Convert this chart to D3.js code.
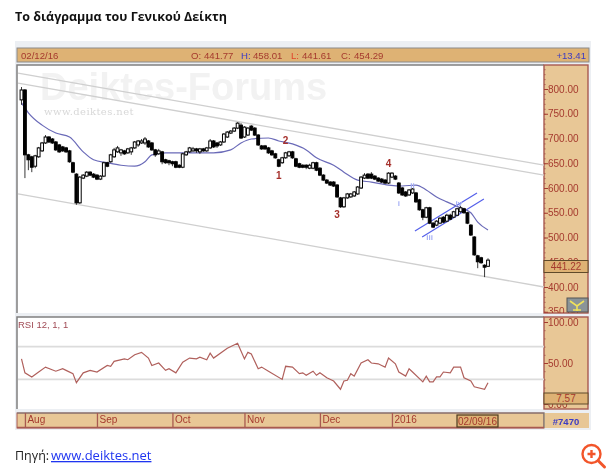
<!DOCTYPE html>
<html>
<head>
<meta charset="utf-8">
<script src="https://cdn.jsdelivr.net/npm/d3@7"></script>
<style>
  html, body { margin: 0; padding: 0; background: #fff; }
  svg { display: block; filter: blur(0.45px); }
  text { font-family: "Liberation Sans", sans-serif; }
  .axis path { display: none; }
</style>
</head>
<body>
<svg id="chart" width="610" height="472"></svg>
<script>
const opens = [
  778,798,667,663,644,663,675,691,703,699,
  693,687,683,681,675,651,628,570,620,624,
  632,628,626,618,624,651,653,663,673,671,
  675,671,673,681,687,691,691,695,691,677,
  669,673,657,655,653,653,646,642,667,673,
  675,679,673,679,675,681,695,691,687,693,
  703,711,715,721,727,703,707,725,721,707,
  685,685,681,675,669,657,651,661,665,673,
  659,649,646,646,640,640,651,640,626,616,
  612,612,606,580,562,580,582,584,588,600,
  620,628,628,624,620,618,616,610,622,624,
  610,600,592,586,590,590,576,556,541,560,
  529,525,529,541,533,545,541,545,552,558,
  550,525,501,463,459,444,441.77];
const closes = [
  798,667,657,642,665,681,691,703,693,691,
  677,673,675,673,653,632,570,622,626,632,
  626,622,618,624,651,644,667,677,681,677,
  669,679,681,693,695,695,699,683,677,667,
  675,653,651,651,649,642,642,669,673,681,
  679,675,679,675,681,695,683,685,693,709,
  713,715,721,731,701,723,721,717,707,687,
  679,679,671,667,661,644,661,671,673,661,
  644,642,642,642,646,651,636,626,616,610,
  606,604,582,562,580,588,588,592,602,622,
  626,620,620,618,614,612,610,630,630,618,
  590,586,584,596,598,572,556,541,560,529,
  521,533,539,531,545,537,552,558,560,550,
  529,505,465,451,449,440,454.29];
const highs = [
  804,800,669,665,667,683,693,707,705,701,
  695,689,685,683,677,653,630,624,628,634,
  634,630,628,626,653,653,669,681,685,679,
  677,681,683,695,697,699,703,697,693,679,
  679,675,659,657,655,655,648,671,675,683,
  683,681,681,681,683,699,697,693,695,711,
  715,717,723,733,731,725,723,727,723,709,
  687,687,683,677,671,659,663,673,675,675,
  661,651,648,648,649,653,653,642,628,618,
  614,614,608,582,582,590,590,594,604,624,
  630,630,632,626,622,620,618,632,632,626,
  612,602,594,598,600,592,578,558,562,562,
  531,535,541,543,548,548,554,560,564,560,
  552,527,503,465,461,446,458.01];
const lows = [
  768,620,636,632,640,661,673,689,691,689,
  675,671,673,671,651,630,566,568,618,622,
  624,620,616,616,622,642,651,661,671,665,
  667,669,667,679,683,689,687,681,675,663,
  667,648,649,646,644,640,640,640,665,671,
  673,671,669,673,673,679,681,681,685,691,
  701,709,713,719,699,701,705,715,705,685,
  677,677,669,665,659,642,649,659,663,659,
  642,640,640,638,638,638,634,624,614,608,
  604,602,580,560,560,578,580,582,586,598,
  618,618,618,616,612,610,608,608,620,616,
  588,584,582,584,588,570,554,535,539,527,
  519,523,527,529,531,535,539,543,550,548,
  527,503,463,438,447,420,441.61];

// moving average, read at the bars where the line bends
const maBars = [0,2,6,10,14,18,21,25,29,33,36,38,42,47,56,61,64,67,72,75,79,83,86,91,94,98,102,107,111,115,118,121,124,128,131,133,136];
const maValues = [772,752,727,711,703,673,657,651,646,644,653,667,671,671,671,677,691,699,701,695,689,677,661,646,632,616,612,606,604,606,596,582,572,560,550,531,515];

const rsiBars = [0,1,3,5,7,10,12,13,15,16,18,20,22,25,26,27,30,31,33,35,37,38,40,42,43,45,47,49,51,52,54,55,56,60,63,65,66,67,69,70,72,76,77,79,81,82,83,85,86,87,89,91,93,94,95,96,97,99,101,102,104,105,106,107,109,110,112,113,114,117,118,119,120,121,122,123,125,126,128,129,131,132,135,136];
const rsiValues = [55,38,33,39,45,40,43,41,37,26,38,41,39,47,46,52,55,54,60,63,56,47,50,41,43,38,51,56,55,57,54,62,56,68,74,55,63,61,43,45,40,30,46,45,37,38,35,40,35,38,32,28,18,28,29,37,34,50,54,50,49,47,45,56,49,39,34,43,39,27,34,27,27,33,33,39,38,45,45,32,28,21,18,26];
const rsiLevels = [70, 30];

// x in bars, y in index points, taken from where the lines meet the frame
const trendBars = [-1, 152.3];
const trendLines = [[832, 646], [812, 626], [588, 400]];
const channelBars = [[114.7, 132.8], [116.8, 134.8]];
const channelValues = [[513, 590], [501, 578]];

const waveLabels = ['1', '2', '3', '4'];
const waveBars = [75, 77, 92, 107];
const waveValues = [626, 695, 547, 649];
const subLabels = ['i', 'ii', 'iii', 'iv'];
const subBars = [110, 114, 119, 127.5];
const subValues = [570, 606, 501, 570];

const priceTicks = [350, 400, 450, 500, 550, 600, 650, 700, 750, 800];
const priceMinorTicks = d3.range(350, 851, 10);
const rsiTicks = [0, 50, 100];
const rsiMinorTicks = d3.range(0, 101, 10);
const monthLabels = ['Aug', 'Sep', 'Oct', 'Nov', 'Dec', '2016'];
const monthBars = [1, 22, 44, 65, 87, 108];

const axisColor = '#a53a2e';
const borderColor = '#a85a50';
const headerFill = '#deb274';
const axisFill = '#e8c796';

const svg = d3.select('#chart');

const xScale = d3.scaleLinear().domain([0, 136]).range([21.5, 488]);
const yPrice = d3.scaleLinear().domain([800, 400]).range([89, 287]);
const yRsi = d3.scaleLinear().domain([100, 50]).range([322, 363]);

const plotLeft = 17, plotRight = 544, sideRight = 588;
const plotTop = 65, plotBottom = 313, rsiTop = 317, rsiBottom = 409;

// page text
svg.append('text')
  .attr('x', 15).attr('y', 21)
  .attr('fill', '#111')
  .style('font-family', '"Open Sans"')
  .style('font-weight', 700)
  .style('font-size', '12.5px')
  .text('Το διάγραμμα του Γενικού Δείκτη');

// panel
svg.append('rect').attr('x', 15).attr('y', 41).attr('width', 576).attr('height', 389).attr('fill', '#eceff3');
svg.append('rect').attr('x', plotLeft).attr('y', 48).attr('width', sideRight - plotLeft + 1).attr('height', 14)
  .attr('fill', headerFill).attr('stroke', '#8a8a8a').attr('stroke-width', 1);

[[plotTop, plotBottom], [rsiTop, rsiBottom]].forEach(([t, b]) => {
  svg.append('rect').attr('x', plotLeft).attr('y', t).attr('width', plotRight - plotLeft).attr('height', b - t).attr('fill', '#fff');
  svg.append('path').attr('d', `M${plotLeft},${b}V${t}H${plotRight}`).attr('fill', 'none').attr('stroke', '#808080').attr('stroke-width', 1.5);
  svg.append('rect').attr('x', plotRight).attr('y', t).attr('width', sideRight - plotRight).attr('height', b - t)
    .attr('fill', axisFill).attr('stroke', borderColor).attr('stroke-width', 1.4);
});

// side axes are cut off at the edge of their pane
const clips = svg.append('defs');
clips.append('clipPath').attr('id', 'priceClip').append('rect')
  .attr('x', plotRight).attr('y', plotTop).attr('width', sideRight - plotRight).attr('height', plotBottom - plotTop);
clips.append('clipPath').attr('id', 'rsiClip').append('rect')
  .attr('x', plotRight).attr('y', rsiTop).attr('width', sideRight - plotRight).attr('height', rsiBottom - rsiTop);

// header values
const headerText = [
  ['02/12/16', 21, axisColor], ['O:', 191, axisColor], ['441.77', 204, axisColor],
  ['H:', 241, '#3b3bc4'], ['458.01', 253, axisColor], ['L:', 291, '#e0452a'],
  ['441.61', 302, axisColor], ['C:', 341, axisColor], ['454.29', 354, axisColor],
];
svg.selectAll('.head')
  .data(headerText)
  .enter().append('text')
  .attr('class', 'head')
  .attr('x', d => d[1]).attr('y', 59)
  .attr('fill', d => d[2])
  .style('font-size', '9.6px')
  .text(d => d[0]);
svg.append('text').attr('x', 586).attr('y', 59).attr('text-anchor', 'end')
  .attr('fill', '#3b3bc4').style('font-size', '9.6px').text('+13.41');

// watermark
svg.append('text').attr('x', 40).attr('y', 100).attr('fill', '#f2f2f2')
  .style('font-weight', 700).style('font-size', '38px').text('Deiktes-Forums');
svg.append('text').attr('x', 44).attr('y', 115).attr('fill', '#d8d8d8')
  .style('font-family', '"DejaVu Serif"').style('font-size', '10px').style('letter-spacing', '0.4px')
  .text('www.deiktes.net');

// trend lines
const main = svg.append('g');
trendLines.forEach(v => {
  main.append('line')
    .attr('x1', xScale(trendBars[0])).attr('y1', yPrice(v[0]))
    .attr('x2', xScale(trendBars[1])).attr('y2', yPrice(v[1]))
    .attr('stroke', '#cfcfcf').attr('stroke-width', 1.3);
});
channelBars.forEach((b, i) => {
  main.append('line')
    .attr('x1', xScale(b[0])).attr('y1', yPrice(channelValues[i][0]))
    .attr('x2', xScale(b[1])).attr('y2', yPrice(channelValues[i][1]))
    .attr('stroke', '#5560ea').attr('stroke-width', 1.2);
});

// moving average
const maLine = d3.line()
  .x((d, i) => xScale(maBars[i]))
  .y(d => yPrice(d))
  .curve(d3.curveMonotoneX);
main.append('path').datum(maValues).attr('d', maLine)
  .attr('fill', 'none').attr('stroke', '#6a6ab8').attr('stroke-width', 1.2);

// candles
const candles = main.selectAll('.candle')
  .data(opens)
  .enter().append('g')
  .attr('class', 'candle');
candles.append('line')
  .attr('x1', (d, i) => xScale(i)).attr('x2', (d, i) => xScale(i))
  .attr('y1', (d, i) => yPrice(highs[i])).attr('y2', (d, i) => yPrice(lows[i]))
  .attr('stroke', '#222').attr('stroke-width', 0.9);
candles.append('rect')
  .attr('x', (d, i) => xScale(i) - 1.4)
  .attr('width', 2.8)
  .attr('y', (d, i) => yPrice(Math.max(d, closes[i])))
  .attr('height', (d, i) => Math.max(1.5, yPrice(Math.min(d, closes[i])) - yPrice(Math.max(d, closes[i]))))
  .attr('fill', (d, i) => closes[i] >= d ? '#fff' : '#000')
  .attr('stroke', '#000').attr('stroke-width', 1);

// wave labels
main.selectAll('.wave')
  .data(waveLabels)
  .enter().append('text')
  .attr('class', 'wave')
  .attr('x', (d, i) => xScale(waveBars[i]))
  .attr('y', (d, i) => yPrice(waveValues[i]))
  .attr('dy', '.35em').attr('text-anchor', 'middle')
  .attr('fill', '#a5302c').style('font-weight', 700).style('font-size', '10px')
  .text(d => d);
main.selectAll('.sub')
  .data(subLabels)
  .enter().append('text')
  .attr('class', 'sub')
  .attr('x', (d, i) => xScale(subBars[i]))
  .attr('y', (d, i) => yPrice(subValues[i]))
  .attr('dy', '.35em').attr('text-anchor', 'middle')
  .attr('fill', '#a4aef5').style('font-weight', 700).style('font-size', '8px')
  .text(d => d);

// price axis
function drawSideAxis(scale, major, minor, clipId) {
  const g = svg.append('g').attr('class', 'axis').attr('clip-path', `url(#${clipId})`)
    .append('g').attr('transform', `translate(${plotRight},0)`);
  g.append('g')
    .call(d3.axisRight(scale).tickValues(minor).tickSize(1.5).tickFormat(''))
    .selectAll('line').attr('stroke', borderColor);
  const labels = g.append('g')
    .call(d3.axisRight(scale).tickValues(major).tickSize(4).tickPadding(0).tickFormat(d3.format('.2f')));
  labels.selectAll('line').attr('stroke', axisColor);
  labels.selectAll('text')
    .attr('fill', axisColor)
    .style('font-size', '10px')
    .style('font-family', '"Liberation Sans"');
}
drawSideAxis(yPrice, priceTicks, priceMinorTicks.filter(d => yPrice(d) > plotTop && yPrice(d) < plotBottom), 'priceClip');

svg.append('rect').attr('x', plotRight).attr('y', 260.5).attr('width', sideRight - plotRight).attr('height', 12)
  .attr('fill', headerFill).attr('stroke', '#5f4a2a').attr('stroke-width', 1);
svg.append('text').attr('x', 566).attr('y', 270).attr('text-anchor', 'middle')
  .attr('fill', axisColor).style('font-size', '10px').text('441.22');

// small icon in the axis corner
svg.append('rect').attr('x', 567).attr('y', 298).attr('width', 21).attr('height', 14).attr('fill', '#8b9498').attr('stroke', '#555');
svg.append('path').attr('d', 'M570,301L577,306L584,301M577,306V311M573,310H581')
  .attr('fill', 'none').attr('stroke', '#f1e25a').attr('stroke-width', 1.6);

// rsi pane
const rsi = svg.append('g');
rsiLevels.forEach(l => {
  rsi.append('line')
    .attr('x1', plotLeft + 1).attr('x2', plotRight)
    .attr('y1', yRsi(l)).attr('y2', yRsi(l))
    .attr('stroke', '#dcdcdc').attr('stroke-width', 1.6);
});
const rsiLine = d3.line()
  .x((d, i) => xScale(rsiBars[i]))
  .y(d => yRsi(d));
rsi.append('path').datum(rsiValues).attr('d', rsiLine)
  .attr('fill', 'none').attr('stroke', '#b0605c').attr('stroke-width', 1.2);
svg.append('text').attr('x', 18).attr('y', 328).attr('fill', '#a04a55').style('font-size', '9.5px').text('RSI 12, 1, 1');

drawSideAxis(yRsi, rsiTicks, rsiMinorTicks, 'rsiClip');
svg.append('rect').attr('x', plotRight).attr('y', 393).attr('width', sideRight - plotRight).attr('height', 11)
  .attr('fill', headerFill).attr('stroke', '#5f4a2a').attr('stroke-width', 1);
svg.append('text').attr('x', 566).attr('y', 402).attr('text-anchor', 'middle')
  .attr('fill', axisColor).style('font-size', '10px').text('7.57');

// time axis
svg.append('rect').attr('x', plotLeft).attr('y', 413).attr('width', plotRight - plotLeft).attr('height', 15)
  .attr('fill', axisFill).attr('stroke', borderColor).attr('stroke-width', 1);
svg.append('rect').attr('x', plotRight).attr('y', 413).attr('width', sideRight - plotRight + 1).attr('height', 15).attr('fill', axisFill);
svg.append('path').attr('d', `M${plotLeft},413H${plotRight}V428`).attr('fill', 'none').attr('stroke', '#777').attr('stroke-width', 1.2);
svg.append('path').attr('d', `M${plotLeft},427.5H${plotRight}`).attr('stroke', borderColor).attr('stroke-width', 1.5);

const axisX = d3.axisBottom(xScale)
  .tickValues(monthBars)
  .tickSize(14)
  .tickFormat((d, i) => monthLabels[i]);
const timeAxis = svg.append('g').attr('class', 'axis').attr('transform', 'translate(0,413)').call(axisX);
timeAxis.selectAll('line').attr('stroke', borderColor).attr('stroke-width', 1.3);
timeAxis.selectAll('text')
  .attr('text-anchor', 'start').attr('x', 2).attr('y', 3).attr('dy', '.71em')
  .attr('fill', axisColor)
  .style('font-size', '10px').style('font-family', '"Liberation Sans"');

svg.append('rect').attr('x', 457).attr('y', 415).attr('width', 41).attr('height', 12)
  .attr('fill', headerFill).attr('stroke', '#4d3a20').attr('stroke-width', 1.2);
svg.append('text').attr('x', 477.5).attr('y', 425).attr('text-anchor', 'middle')
  .attr('fill', axisColor).style('font-size', '10px').text('02/09/16');
svg.append('text').attr('x', 566).attr('y', 424.5).attr('text-anchor', 'middle')
  .attr('fill', '#3b3bc4').style('font-weight', 700).style('font-size', '9.5px').text('#7470');

// source line
svg.append('text').attr('x', 15).attr('y', 460).attr('fill', '#222')
  .style('font-family', '"Open Sans"').style('font-size', '12.5px').text('Πηγή:');
svg.append('text').attr('x', 51).attr('y', 460).attr('fill', '#1f35f0')
  .attr('text-decoration', 'underline')
  .style('font-family', '"Open Sans"').style('font-size', '13px').text('www.deiktes.net');

// zoom icon
const icon = svg.append('g').attr('transform', 'translate(591.5,454)').attr('stroke', '#f2552a').attr('fill', 'none');
icon.append('circle').attr('r', 9).attr('stroke-width', 2.4);
icon.append('path').attr('d', 'M-4,0H4M0,-4V4').attr('stroke-width', 2.4);
icon.append('path').attr('d', 'M7,7L13,13').attr('stroke-width', 3).attr('stroke-linecap', 'round');
</script>
</body>
</html>
